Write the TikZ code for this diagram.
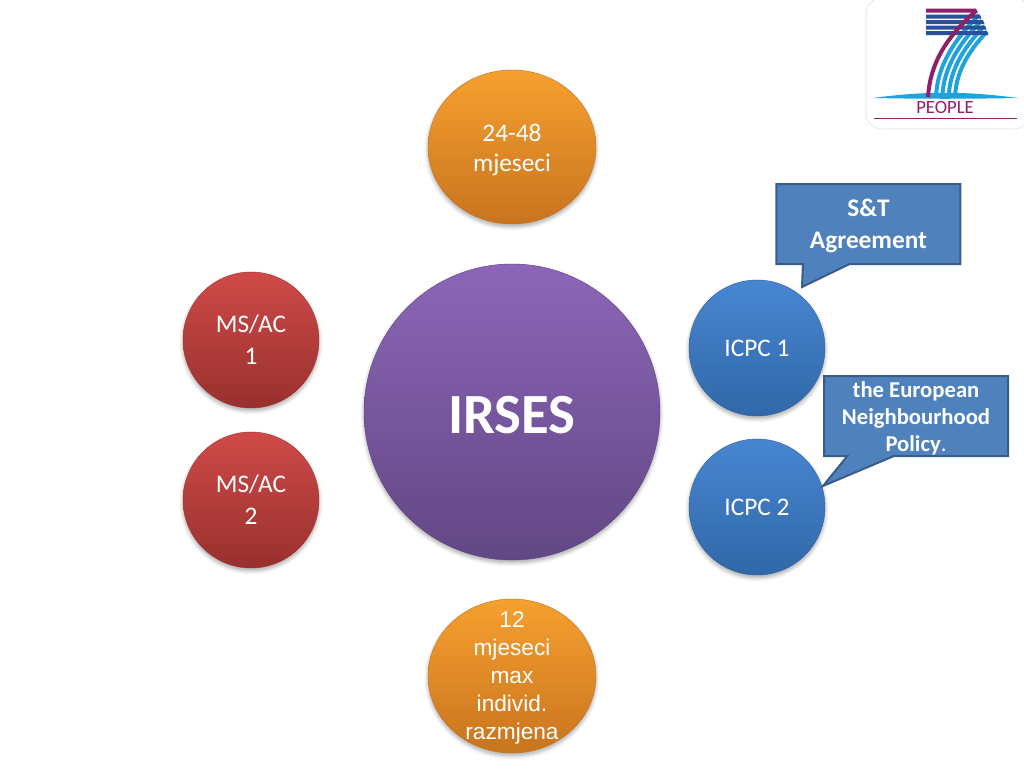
\documentclass[tikz,border=0pt]{standalone}
\usepackage{fontspec}
\setmainfont{Carlito}
\newfontfamily\arialfont{Liberation Sans}
\usetikzlibrary{shapes.geometric,shapes.callouts,shadows.blur}
\definecolor{peopleMagenta}{HTML}{8E1F68}
\definecolor{peopleBlue}{HTML}{2A4F9C}
\definecolor{peopleCyan}{HTML}{1FA3DC}
\definecolor{redRim}{HTML}{A03432}
\definecolor{redTop}{HTML}{CF4A48}
\definecolor{redMid}{HTML}{BC3634}
\definecolor{redBot}{HTML}{98302E}
\definecolor{blueRim}{HTML}{2F5E96}
\definecolor{blueTop}{HTML}{4886D2}
\definecolor{blueMid}{HTML}{3B79C2}
\definecolor{blueBot}{HTML}{3068A8}
\definecolor{eggRim}{HTML}{C0701E}
\definecolor{eggTop}{HTML}{F7A030}
\definecolor{eggMid}{HTML}{F18F20}
\definecolor{eggBot}{HTML}{C8741E}
\definecolor{hubRim}{HTML}{5A4080}
\definecolor{hubTop}{HTML}{8C66B8}
\definecolor{hubBot}{HTML}{624784}
\definecolor{noteRim}{HTML}{385D8A}
\definecolor{noteFill}{HTML}{4F81BD}
\tikzstyle{soft} = [blur shadow={shadow xshift=0pt, shadow yshift=-2pt, shadow blur radius=3pt, shadow blur steps=6, shadow opacity=35}]
\tikzstyle{ball} = [circle, soft, inner sep=0pt, minimum size=102pt, text=white, align=center,
    line width=0.3pt, font=\fontsize{19}{24}\selectfont]
\tikzstyle{redball} = [ball, draw=redRim, top color=redTop, middle color=redMid, bottom color=redBot]
\tikzstyle{blueball} = [ball, draw=blueRim, top color=blueTop, middle color=blueMid, bottom color=blueBot]
\tikzstyle{egg} = [ellipse, soft, inner sep=0pt, minimum width=126pt, minimum height=115.5pt, line width=0.3pt,
    draw=eggRim, top color=eggTop, middle color=eggMid, bottom color=eggBot]
\tikzstyle{eggtext} = [text=white, align=center, inner sep=0pt]
\tikzstyle{note} = [rectangle callout, draw=noteRim, line width=1.5pt, fill=noteFill,
    minimum width=138pt, minimum height=60pt, inner sep=0pt, callout pointer width=35pt]
\begin{document}
\begin{tikzpicture}[x=0.75pt, y=-0.75pt]
    \useasboundingbox (0,0) rectangle (1024,768);
    % Place nodes
    \node [circle, soft, inner sep=0pt, minimum size=222pt, line width=0.3pt, draw=hubRim, top color=hubTop, bottom color=hubBot,
        label={[eggtext, yshift=-2pt, font=\bfseries\fontsize{42.6}{46}\selectfont]center:IRSES}] (irses) at (512,412) {};
    \node [egg, above of=irses, node distance=198.75pt,
        label={[eggtext, yshift=-2pt, font=\fontsize{19}{22.5}\selectfont]center:24-48\\mjeseci}] (months) {};
    \node [egg, below of=irses, node distance=198pt,
        label={[eggtext, yshift=-1.5pt, font=\arialfont\fontsize{17}{21}\selectfont]center:12\\mjeseci\\max\\individ.\\razmjena}] (exchange) {};
    \node [redball, left of=irses, node distance=195.75pt, yshift=54pt] (msacOne) {MS/AC\\1};
    \node [redball, below of=msacOne, node distance=120pt] (msacTwo) {MS/AC\\2};
    \node [blueball, right of=irses, node distance=183.75pt, yshift=48pt] (icpcOne) {ICPC 1};
    \node [blueball, below of=icpcOne, node distance=119.25pt] (icpcTwo) {ICPC 2};
    \node [note, above of=icpcOne, node distance=93pt, xshift=83.6pt, callout absolute pointer={(802,287)},
        label={[eggtext, yshift=-1.5pt, font=\bfseries\fontsize{19}{24}\selectfont]center:S\&T\\Agreement}] (agreement) {};
    \node [note, below of=icpcOne, node distance=51pt, xshift=119.25pt, callout absolute pointer={(823,486)},
        label={[eggtext, yshift=-1.5pt, font=\bfseries\fontsize{17}{20.25}\selectfont]center:the European\\Neighbourhood\\Policy{\mdseries .}}] (policy) {};
    % Draw logo
    \filldraw [draw=black!12, fill=white, rounded corners=12pt] (866,-2) rectangle (1030,129);
    \fill [peopleCyan] (873,98) .. controls (925,91) and (965,91) .. (1018,98) .. controls (965,99) and (925,99) .. (873,98);
    \foreach \i in {0,1,2,3}
        \draw [peopleCyan, line width=3pt] (979+2.67*\i,15+5.5*\i) .. controls (952+4.33*\i,42+4.33*\i) and (937+6.33*\i,68+2.33*\i) .. (936+6.33*\i,97);
    \foreach \top/\tip in {14.7/980,20.2/983,25.7/985,31.2/987}
        \fill [peopleBlue] (926,\top) -- (\tip,\top) -- (\tip+1.5,\top+3.8) -- (926,\top+3.8) -- cycle;
    \draw [peopleMagenta, line width=3pt] (976,11) .. controls (945,38) and (930,65) .. (928,97);
    \fill [peopleMagenta] (926,8.7) -- (976,8.7) -- (978,12.7) -- (926,12.7) -- cycle;
    \node [text=peopleMagenta, font=\fontsize{14}{14}\selectfont, inner sep=0pt] (people) at (945,108) {PEOPLE};
    \draw [peopleMagenta, line width=0.8pt] (874,118.5) -- (1017,118.5);
\end{tikzpicture}
\end{document}
